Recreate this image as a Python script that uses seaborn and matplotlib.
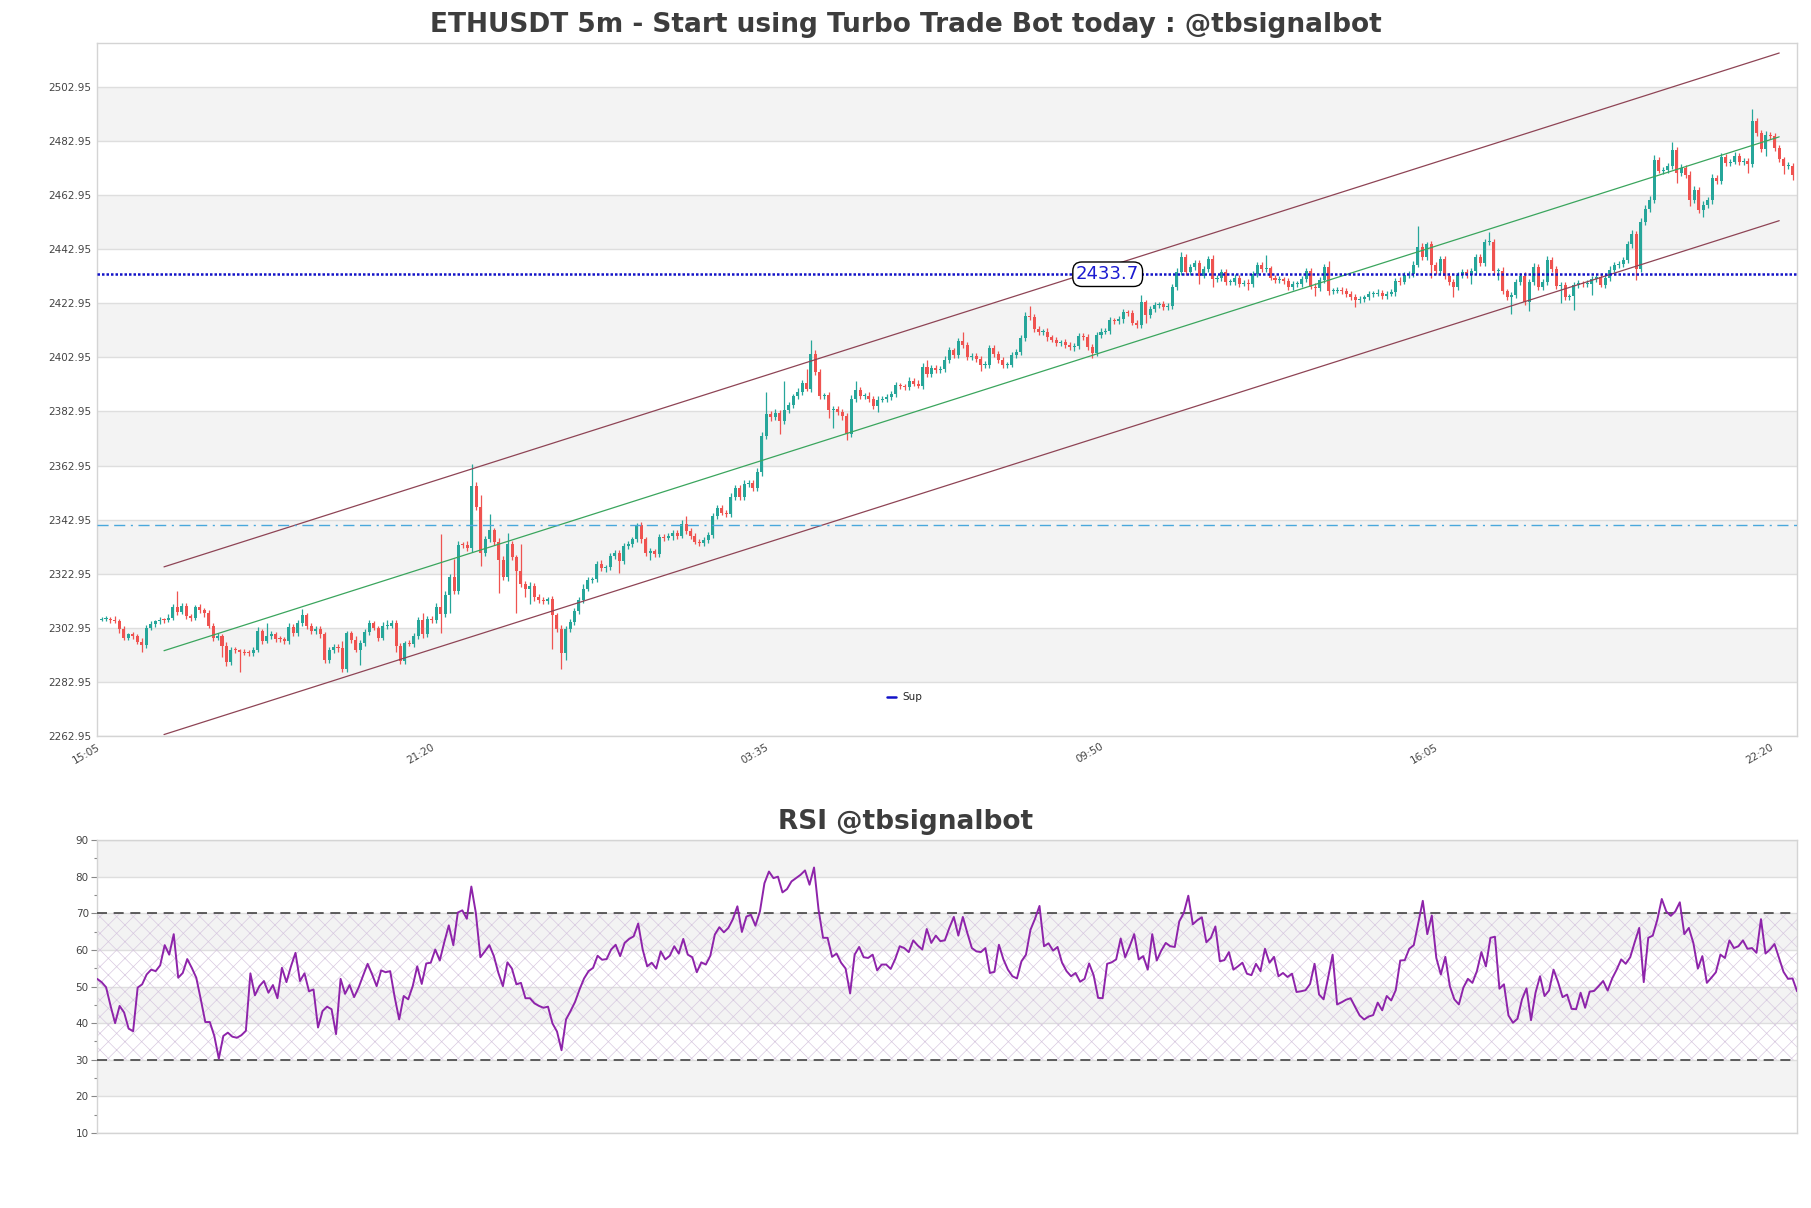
import numpy as np
import pandas as pd
import matplotlib
matplotlib.use("Agg")
import matplotlib.pyplot as plt
from matplotlib.lines import Line2D
import seaborn as sns

# ---------------- data ----------------
title_main = "ETHUSDT 5m - Start using Turbo Trade Bot today : @tbsignalbot"
title_rsi = "RSI @tbsignalbot"
time_labels = ["15:05", "21:20", "03:35", "09:50", "16:05", "22:20"]
time_label_pos = [0, 75, 150, 225, 300, 375]
first_open = 2306.0

closes = [
    2306.2, 2306.3, 2306.0, 2305.5, 2302.4, 2299.3, 2300.5, 2299.8, 2297.9, 2296.6,
    2303.0, 2304.3, 2305.4, 2305.9, 2305.8, 2306.7, 2310.6, 2308.9, 2311.2, 2307.2,
    2306.7, 2310.5, 2309.5, 2308.4, 2303.8, 2299.3, 2299.8, 2296.3, 2290.2, 2294.9,
    2294.6, 2294.1, 2293.8, 2293.6, 2294.9, 2301.7, 2298.2, 2299.8, 2300.7, 2299.0,
    2298.7, 2298.0, 2303.4, 2300.9, 2304.6, 2307.6, 2303.8, 2301.8, 2302.6, 2300.5,
    2291.0, 2294.6, 2295.9, 2295.6, 2287.7, 2300.9, 2298.5, 2294.9, 2297.3, 2301.4,
    2304.6, 2303.0, 2299.3, 2303.8, 2303.8, 2304.8, 2296.1, 2290.7, 2297.3, 2297.0,
    2299.8, 2306.0, 2300.5, 2306.2, 2305.8, 2310.6, 2308.0, 2315.0, 2321.6, 2316.6,
    2333.7, 2333.5, 2332.4, 2355.5, 2347.6, 2330.7, 2335.7, 2339.0, 2334.8, 2328.2,
    2321.6, 2334.0, 2329.0, 2324.0, 2319.0, 2317.5, 2318.5, 2314.2, 2313.3, 2313.0,
    2313.5, 2307.6, 2302.6, 2293.5, 2302.6, 2305.0, 2309.2, 2313.3, 2317.5, 2320.8,
    2321.0, 2326.6, 2325.0, 2325.3, 2329.4, 2330.7, 2327.8, 2333.2, 2334.0, 2335.7,
    2340.9, 2335.7, 2330.7, 2331.2, 2330.2, 2336.5, 2336.3, 2336.8, 2338.1, 2337.0,
    2341.5, 2338.9, 2337.0, 2334.8, 2334.4, 2335.5, 2337.4, 2344.2, 2347.3, 2345.6,
    2345.0, 2351.4, 2354.7, 2351.4, 2356.3, 2356.5, 2354.7, 2360.4, 2374.0, 2382.0,
    2380.8, 2382.3, 2379.5, 2383.6, 2385.3, 2388.6, 2390.2, 2393.5, 2391.4, 2404.3,
    2397.6, 2388.6, 2388.9, 2383.6, 2384.0, 2382.8, 2381.1, 2374.5, 2387.7, 2391.0,
    2388.6, 2388.8, 2387.6, 2385.0, 2387.3, 2387.5, 2388.4, 2389.4, 2392.6, 2392.2,
    2392.0, 2394.3, 2393.3, 2392.5, 2399.3, 2396.8, 2399.0, 2398.4, 2398.5, 2402.1,
    2405.6, 2403.7, 2409.0, 2407.5, 2403.0, 2403.3, 2402.5, 2400.1, 2400.3, 2406.6,
    2404.3, 2402.0, 2400.1, 2400.3, 2403.8, 2405.0, 2410.0, 2418.3, 2418.0, 2413.4,
    2412.3, 2412.5, 2410.4, 2409.5, 2408.4, 2408.5, 2407.5, 2406.7, 2407.2, 2410.8,
    2410.6, 2406.7, 2404.7, 2411.4, 2412.5, 2412.8, 2416.6, 2416.3, 2417.0, 2419.6,
    2419.2, 2415.8, 2415.0, 2423.3, 2418.6, 2420.8, 2422.4, 2422.6, 2421.5, 2421.8,
    2429.0, 2434.5, 2439.9, 2434.5, 2436.3, 2438.0, 2433.2, 2435.6, 2439.5, 2431.9,
    2432.3, 2434.5, 2430.7, 2430.9, 2432.4, 2430.2, 2430.6, 2430.0, 2433.7, 2437.2,
    2435.6, 2435.9, 2432.4, 2431.6, 2431.8, 2431.2, 2429.1, 2430.0, 2430.2, 2431.9,
    2434.9, 2429.1, 2428.6, 2431.6, 2436.2, 2427.4, 2427.6, 2427.9, 2427.5, 2426.4,
    2425.3, 2424.1, 2424.4, 2425.2, 2426.3, 2426.5, 2426.9, 2425.6, 2426.5, 2427.0,
    2431.3, 2431.0, 2433.5, 2433.8, 2437.3, 2443.9, 2440.0, 2444.8, 2437.3, 2434.8,
    2439.3, 2433.2, 2430.7, 2429.0, 2433.5, 2434.4, 2433.4, 2435.0, 2440.0, 2437.8,
    2445.6, 2445.8, 2434.8, 2435.0, 2427.4, 2425.3, 2426.0, 2430.8, 2433.2, 2423.3,
    2430.8, 2436.5, 2429.0, 2431.0, 2438.9, 2435.6, 2429.5, 2429.8, 2425.3, 2425.5,
    2429.9, 2430.3, 2430.0, 2430.2, 2431.8, 2432.6, 2429.9, 2432.4, 2435.4, 2437.3,
    2437.5, 2438.9, 2444.7, 2448.6, 2435.7, 2453.0, 2458.0, 2461.3, 2475.8, 2472.0,
    2472.3, 2473.7, 2479.5, 2471.2, 2473.0, 2470.4, 2461.3, 2465.0, 2457.5, 2459.3,
    2461.0, 2469.2, 2468.0, 2477.0, 2475.0, 2475.3, 2477.5, 2475.3, 2475.5, 2474.5,
    2490.2, 2486.0, 2480.0, 2485.3, 2484.8, 2480.3, 2476.2, 2473.7, 2473.9, 2470.4,
]

upper_wick = [
    0.8, 1.0, 0.6, 1.2, 0.9, 1.1, 0.7, 1.0, 0.8, 1.3, 0.9, 1.2, 0.6, 1.0, 0.8, 1.5, 1.0, 5.9, 0.9, 1.1,
    1.0, 0.8, 1.2, 0.7, 1.0, 0.9, 1.1, 0.8, 1.4, 0.9, 1.0, 0.7, 1.2, 0.8, 1.0, 1.6, 0.9, 5.1, 1.0, 0.8,
    1.1, 0.9, 1.5, 1.0, 1.2, 2.4, 0.8, 1.0, 0.9, 1.1, 0.8, 1.2, 1.0, 0.9, 2.5, 1.0, 0.8, 1.3, 1.1, 1.2,
    1.4, 1.0, 0.8, 1.2, 1.9, 1.0, 0.9, 1.1, 0.8, 1.0, 1.3, 1.0, 2.5, 1.2, 1.0, 1.5, 27.0, 1.6, 1.2, 6.9,
    1.2, 1.0, 1.5, 7.9, 1.3, 4.4, 1.2, 6.0, 1.0, 1.4, 1.5, 4.0, 1.2, 1.0, 10.0, 1.1, 1.3, 1.0, 1.2, 0.9,
    1.0, 1.2, 1.0, 1.4, 1.1, 1.3, 1.0, 1.2, 1.5, 1.1, 0.9, 1.2, 1.4, 1.0, 1.2, 1.1, 1.0, 1.3, 1.1, 1.0,
    0.8, 1.2, 1.0, 1.1, 0.9, 1.3, 1.0, 1.2, 1.1, 0.9, 1.2, 2.7, 1.0, 1.1, 0.9, 1.2, 1.0, 1.4, 1.2, 1.0,
    1.1, 1.3, 1.0, 1.2, 1.4, 1.0, 1.2, 1.5, 1.3, 8.2, 1.2, 1.4, 1.1, 10.7, 1.2, 1.0, 1.3, 1.1, 5.0, 5.0,
    1.5, 1.2, 1.0, 1.3, 1.1, 1.0, 1.2, 1.4, 1.3, 3.3, 1.1, 1.0, 1.2, 1.0, 1.3, 1.1, 1.0, 1.2, 1.4, 1.0,
    1.1, 1.3, 1.0, 1.2, 1.4, 2.8, 1.0, 1.1, 1.2, 1.3, 1.1, 1.0, 1.2, 3.5, 1.0, 1.1, 1.2, 1.0, 1.3, 1.1,
    1.0, 1.2, 1.1, 1.0, 1.3, 1.1, 1.2, 1.4, 3.6, 1.0, 1.1, 1.0, 1.2, 1.0, 1.1, 1.0, 1.2, 1.1, 1.0, 1.2,
    1.0, 1.1, 1.2, 1.0, 1.3, 1.1, 1.2, 1.0, 1.1, 1.3, 1.0, 1.2, 1.1, 2.9, 1.0, 1.2, 1.1, 1.0, 1.2, 1.3,
    1.2, 1.4, 1.9, 1.2, 1.3, 1.1, 1.0, 1.2, 1.1, 1.3, 1.0, 1.2, 1.1, 1.0, 1.3, 1.1, 1.0, 1.2, 1.1, 1.0,
    1.1, 4.9, 1.0, 1.2, 1.1, 1.0, 1.2, 1.1, 1.0, 1.3, 1.1, 1.0, 1.2, 1.1, 1.3, 2.4, 1.0, 1.1, 1.0, 1.2,
    1.0, 1.1, 1.2, 1.0, 1.1, 1.0, 1.2, 1.1, 1.0, 1.2, 1.1, 1.3, 1.0, 1.2, 1.4, 7.8, 1.2, 1.0, 1.3, 1.1,
    1.2, 1.0, 1.1, 1.3, 1.0, 1.2, 1.1, 1.0, 1.3, 1.1, 1.2, 3.6, 1.0, 1.1, 1.2, 1.0, 1.1, 1.3, 1.0, 1.2,
    1.1, 1.2, 1.0, 1.1, 1.6, 1.2, 1.0, 1.1, 1.2, 1.0, 1.1, 1.3, 1.0, 1.2, 1.1, 1.0, 1.2, 1.1, 1.3, 1.0,
    1.1, 1.2, 1.3, 1.4, 1.2, 1.5, 1.3, 1.4, 2.0, 1.2, 1.1, 1.3, 3.0, 1.2, 1.4, 1.1, 1.3, 1.2, 1.1, 1.3,
    1.2, 1.4, 1.1, 1.5, 1.2, 1.0, 1.3, 1.1, 1.2, 1.0, 4.6, 1.3, 1.2, 1.4, 1.1, 1.2, 1.3, 1.0, 1.2, 1.1,
]

lower_wick = [
    0.7, 0.9, 1.1, 0.8, 1.2, 1.0, 0.8, 1.1, 0.9, 2.6, 1.0, 0.8, 1.2, 0.9, 1.1, 0.8, 1.0, 1.2, 0.9, 1.0,
    1.1, 0.9, 1.0, 1.3, 1.0, 1.2, 0.9, 4.2, 1.2, 1.0, 1.1, 7.5, 0.9, 1.2, 1.0, 0.8, 1.1, 1.0, 0.9, 1.2,
    1.0, 1.2, 0.9, 1.1, 1.0, 0.8, 1.2, 1.0, 1.1, 1.3, 1.0, 1.2, 0.9, 1.5, 1.1, 1.0, 1.2, 0.9, 5.5, 1.0,
    1.1, 0.9, 1.2, 1.0, 1.1, 0.9, 2.2, 1.0, 1.2, 0.9, 1.1, 1.0, 1.2, 0.9, 1.1, 1.0, 7.0, 1.2, 6.6, 1.1,
    1.0, 1.2, 1.1, 1.3, 1.2, 5.0, 1.1, 1.0, 1.3, 12.4, 1.1, 1.2, 1.0, 15.6, 1.1, 3.0, 5.8, 1.2, 1.0, 1.1,
    1.2, 12.4, 1.0, 5.8, 2.5, 1.1, 1.0, 1.2, 1.1, 1.0, 1.2, 1.1, 1.0, 1.3, 1.1, 1.0, 4.6, 1.2, 1.0, 1.1,
    1.0, 1.2, 1.1, 2.5, 1.0, 1.2, 1.1, 1.0, 1.3, 1.1, 1.0, 1.2, 1.1, 1.0, 1.2, 1.1, 1.0, 1.2, 1.1, 1.0,
    1.1, 1.0, 1.2, 1.1, 1.0, 1.2, 1.1, 1.3, 1.2, 1.1, 1.2, 1.0, 5.0, 1.1, 1.2, 1.0, 1.1, 1.2, 1.0, 1.1,
    1.2, 1.1, 1.0, 3.0, 6.6, 1.1, 1.2, 2.1, 1.0, 1.1, 1.2, 1.0, 1.1, 1.2, 2.2, 1.0, 1.1, 1.2, 1.0, 1.1,
    1.0, 1.2, 1.1, 1.0, 1.2, 1.1, 1.0, 1.2, 1.1, 1.0, 1.2, 1.1, 1.0, 1.2, 1.1, 1.0, 1.2, 2.1, 1.0, 1.1,
    1.2, 1.0, 1.1, 1.2, 1.0, 1.1, 1.2, 1.0, 1.1, 1.2, 1.0, 1.1, 1.2, 1.0, 1.1, 1.2, 1.0, 1.1, 1.2, 1.0,
    1.1, 1.0, 2.0, 1.2, 1.1, 1.0, 1.2, 1.1, 1.0, 1.2, 1.1, 1.0, 1.2, 1.1, 2.8, 1.0, 1.2, 1.1, 1.0, 1.2,
    1.1, 1.0, 1.2, 1.1, 1.0, 1.2, 3.0, 1.0, 1.1, 2.9, 1.0, 1.2, 1.1, 1.0, 1.2, 1.1, 1.0, 2.3, 1.1, 1.0,
    1.2, 1.1, 1.0, 1.2, 1.1, 1.0, 1.2, 1.1, 1.0, 1.2, 1.1, 1.0, 2.9, 1.1, 1.0, 1.2, 1.1, 1.0, 1.2, 1.1,
    1.0, 2.5, 1.1, 1.0, 1.2, 1.1, 1.0, 1.2, 1.1, 1.0, 1.2, 1.1, 1.0, 1.2, 1.1, 1.0, 1.2, 1.1, 4.9, 1.0,
    1.1, 1.2, 1.0, 3.7, 1.1, 1.2, 1.0, 3.2, 1.1, 1.2, 1.0, 1.1, 1.2, 3.3, 1.0, 1.1, 6.2, 1.2, 1.0, 1.1,
    3.3, 1.1, 1.0, 1.2, 1.1, 1.0, 1.2, 6.6, 1.1, 1.0, 5.1, 1.2, 1.1, 1.0, 4.2, 1.1, 1.0, 1.2, 1.1, 1.0,
    1.2, 1.1, 1.0, 1.2, 4.2, 1.1, 1.0, 1.2, 1.1, 1.0, 1.2, 1.1, 1.0, 3.6, 1.1, 1.0, 2.3, 1.2, 1.1, 2.8,
    1.0, 1.2, 1.1, 1.0, 1.2, 1.1, 1.0, 1.2, 1.1, 3.3, 1.0, 1.2, 1.1, 2.5, 1.0, 1.2, 1.1, 2.8, 1.0, 1.7,
]

rsi_values = [
    52.1, 51.2, 49.8, 44.7, 40.0, 44.7, 42.9, 38.5, 37.8, 49.7, 50.6, 53.3, 54.6, 54.2, 55.8, 61.3,
    58.7, 64.3, 52.4, 53.7, 57.5, 55.1, 52.4, 46.5, 40.3, 40.3, 36.5, 30.3, 36.5, 37.4, 36.3, 36.0,
    36.7, 37.9, 53.6, 47.6, 50.1, 51.5, 48.3, 50.4, 46.8, 55.1, 51.2, 55.5, 59.2, 51.5, 53.6, 48.7,
    49.2, 38.8, 43.3, 44.5, 43.8, 37.0, 52.1, 48.0, 50.4, 47.1, 49.7, 53.0, 56.2, 53.3, 50.1, 54.4,
    53.9, 54.2, 47.1, 41.0, 47.4, 46.5, 50.1, 55.5, 50.7, 56.3, 56.5, 60.1, 57.1, 62.1, 66.7, 61.3,
    70.2, 70.8, 68.5, 77.3, 70.1, 58.0, 59.6, 61.3, 58.3, 53.7, 50.1, 56.6, 54.9, 50.6, 51.0, 46.8,
    46.8, 45.4, 44.7, 44.2, 44.5, 39.9, 37.7, 32.6, 41.0, 43.3, 45.8, 49.2, 52.2, 54.2, 55.1, 58.4,
    57.3, 57.5, 60.1, 61.4, 58.3,
    61.9, 63.0, 63.7, 67.2, 60.1, 55.5, 56.5, 54.9, 59.6, 57.4,
    58.4, 61.0, 59.0, 63.0, 58.7, 58.0, 53.9, 56.6, 56.0, 58.4,
    64.2, 66.2, 64.8, 66.0, 68.4, 71.9, 64.9, 69.1, 69.6, 66.6,
    70.5, 78.2, 81.4, 79.6, 80.0, 75.7, 76.6, 78.7, 79.6, 80.5,
    81.7, 77.8, 82.5, 71.0, 63.3, 63.3, 58.1, 59.0, 56.5, 54.9,
    48.1, 58.7, 60.8, 58.0, 57.8, 58.7, 54.4, 56.0, 56.0, 54.8,
    57.5, 61.0, 60.5, 59.4, 62.6, 61.2, 60.1, 65.7, 61.9, 63.9,
    62.4, 62.6, 66.0, 69.0, 63.9, 69.0, 64.6, 60.5, 59.6, 59.4,
    60.5, 53.7, 54.0, 61.4, 57.4, 54.6, 52.8, 52.2, 56.9, 58.7,
    65.5, 68.5, 72.0, 61.0, 61.8, 59.8, 60.8, 56.5, 54.2, 52.8, 53.7,
    51.3, 52.1, 56.3, 53.1, 46.9, 46.8, 56.2, 56.6, 57.4, 63.1,
    58.0, 61.0, 64.3, 57.4, 58.3, 54.6, 64.3, 57.1, 59.8, 61.9,
    61.0, 60.8, 67.8, 70.1, 74.8, 67.0, 68.1, 68.9, 62.1, 63.3,
    66.4, 56.9,
    57.2, 59.4, 54.6, 55.5, 56.5, 53.5, 53.1, 56.2, 54.2, 60.3,
    56.5, 58.1, 52.8, 53.7, 52.6, 53.5, 48.5, 48.7, 49.0, 50.7,
    56.2, 47.8, 46.5, 52.4, 58.7, 45.1, 45.7, 46.4, 46.8, 44.4,
    42.1, 41.0, 41.8, 42.2, 45.6, 43.5, 47.4, 46.2, 49.0, 57.1,
    57.2, 60.3, 61.3, 67.3, 73.4, 64.3, 69.4, 57.8, 53.3, 58.1,
    50.1, 46.5, 45.1, 49.7, 52.1, 51.0, 54.2, 59.4, 55.5, 63.3,
    63.6, 49.4, 50.6, 42.1, 40.1, 41.2, 46.5, 49.5, 40.8, 48.3,
    52.8, 47.4, 48.9, 54.6, 51.2, 47.1, 47.8, 43.9, 43.8, 48.3,
    44.2, 48.6, 48.8, 50.1, 51.5, 48.9, 52.2, 54.6, 57.4, 56.2,
    58.0, 62.1, 66.0, 51.2, 63.3, 63.9, 68.2, 73.9, 70.5, 69.3,
    70.5, 73.0, 64.3, 66.0, 61.9, 54.9, 58.3, 51.0, 52.4, 53.9,
    58.7, 57.8, 62.6, 60.5, 61.0, 62.6, 60.3, 60.5, 59.2, 68.4,
    59.0, 60.1, 61.6, 57.8, 54.0, 52.1, 52.2, 48.7,
]

support_level = 2433.7
support_label_x = 225.5
dashed_level = 2341.0
channel_x = [14, 376]
channel_mid = [2294.5, 2484.5]
channel_upper = [2325.5, 2515.5]
channel_lower = [2263.5, 2453.5]
price_ticks = [2262.95, 2282.95, 2302.95, 2322.95, 2342.95, 2362.95, 2382.95,
               2402.95, 2422.95, 2442.95, 2462.95, 2482.95, 2502.95]
rsi_ticks = [10, 20, 30, 40, 50, 60, 70, 80, 90]
rsi_minor = [15, 25, 35, 45, 55, 65, 75, 85]
rsi_bands = [(80, 90), (60, 70), (40, 50), (20, 30)]
rsi_levels = [30, 70]

# ---------------- styling ----------------
sns.set_theme(style="white")
plt.rcParams["font.family"] = ["DejaVu Sans"]
plt.rcParams["hatch.linewidth"] = 0.5

UP = "#26a69a"
DOWN = "#ef5350"
BAND = "#f3f3f3"
GRID = "#dedede"
SPINE = "#d4d4d4"
TXT = "#3d3d3d"
SUP_COLOR = "#1212c8"

df = pd.DataFrame({"close": closes})
df["open"] = [first_open] + closes[:-1]
df["high"] = np.maximum(df["open"], df["close"]) + np.array(upper_wick)
df["low"] = np.minimum(df["open"], df["close"]) - np.array(lower_wick)
df["x"] = np.arange(len(df))
n = len(df)

fig = plt.figure(figsize=(18.11, 12.08), dpi=100)
ax = fig.add_axes([0.0536, 0.3907, 0.9387, 0.5737])
ax2 = fig.add_axes([0.0536, 0.0621, 0.9387, 0.2425])

# ---- main price panel ----
ylo, yhi = 2262.95, 2519.2
for k in range(len(price_ticks) - 1):
    if (len(price_ticks) - 2 - k) % 2 == 0:
        ax.axhspan(price_ticks[k], price_ticks[k + 1], color=BAND, lw=0, zorder=0)
for t in price_ticks:
    ax.axhline(t, color=GRID, lw=1.0, zorder=0.5)

up = df["close"] >= df["open"]
cols = np.where(up, UP, DOWN)
ax.vlines(df["x"], df["low"], df["high"], colors=cols, lw=0.9, zorder=2)
body_h = np.maximum((df["close"] - df["open"]).abs(), 0.35)
ax.bar(df["x"], body_h, bottom=np.minimum(df["open"], df["close"]),
       width=0.68, color=cols, lw=0, zorder=3)

sns.lineplot(x=channel_x, y=channel_upper, ax=ax, color="#8e4455", lw=0.9, zorder=4)
sns.lineplot(x=channel_x, y=channel_lower, ax=ax, color="#8e4455", lw=0.9, zorder=4)
sns.lineplot(x=channel_x, y=channel_mid, ax=ax, color="#3aa55d", lw=0.9, zorder=4)

ax.axhline(dashed_level, color="#4aa8dc", lw=1.0, ls=(0, (8, 4, 8, 4, 1.5, 4)), zorder=4)
ax.axhline(support_level, color=SUP_COLOR, lw=1.8, ls=(0, (1, 0.8)), zorder=5)
ax.text(support_label_x, support_level, f"{support_level}", color="#1a1ad0", fontsize=13,
        ha="center", va="center", zorder=6,
        bbox=dict(boxstyle="round,pad=0.18,rounding_size=0.5", fc="white", ec="black", lw=1.0))

ax.set_xlim(-1, n)
ax.set_ylim(ylo, yhi)
ax.set_yticks(price_ticks)
ax.set_yticklabels([f"{t:.2f}" for t in price_ticks], fontsize=7.5, color="#444444")
ax.set_xticks(time_label_pos)
ax.set_xticklabels(time_labels, rotation=30, ha="right", fontsize=7.5, color="#444444")
ax.tick_params(axis="both", length=0, pad=4)
ax.set_xlabel("")
ax.set_ylabel("")
for s in ax.spines.values():
    s.set_color(SPINE)
    s.set_linewidth(1.0)
proxy = Line2D([0], [0], color=SUP_COLOR, lw=1.8)
ax.legend(handles=[proxy], labels=["Sup"], loc="lower center",
          bbox_to_anchor=(0.475, 0.035), frameon=False, fontsize=7.5,
          handlelength=0.9, handletextpad=0.6)
fig.text(0.5, 0.9795, title_main, fontsize=19, fontweight="bold", color=TXT,
         ha="center", va="center")

# ---- RSI panel ----
for lo_, hi_ in rsi_bands:
    ax2.axhspan(lo_, hi_, color=BAND, lw=0, zorder=0)
for t in rsi_ticks:
    ax2.axhline(t, color=GRID, lw=1.0, zorder=0.5)
ax2.axhspan(rsi_levels[0], rsi_levels[1], facecolor="none", edgecolor="#d8c9e0",
            hatch="xx", lw=0, zorder=1)
for lv in rsi_levels:
    ax2.axhline(lv, color="#444444", lw=1.2, ls=(0, (6, 4)), zorder=3)
rx = np.arange(len(rsi_values))
sns.lineplot(x=rx, y=rsi_values, ax=ax2, color="#8e24aa", lw=1.4, zorder=4)
ax2.set_xlim(0, len(rsi_values) - 1)
ax2.set_ylim(10, 90)
ax2.set_yticks(rsi_ticks)
ax2.set_yticks(rsi_minor, minor=True)
ax2.set_yticklabels([str(t) for t in rsi_ticks], fontsize=7.5, color="#444444")
ax2.set_xticks([])
ax2.tick_params(axis="y", which="major", length=4, width=0.8, color="#888888", pad=2, left=True)
ax2.tick_params(axis="y", which="minor", length=2.5, width=0.8, color="#888888", left=True)
ax2.set_xlabel("")
ax2.set_ylabel("")
for s in ax2.spines.values():
    s.set_color(SPINE)
    s.set_linewidth(1.0)
fig.text(0.5, 0.3195, title_rsi, fontsize=19, fontweight="bold", color=TXT,
         ha="center", va="center")

fig.savefig("out.png", dpi=100, facecolor="white")
